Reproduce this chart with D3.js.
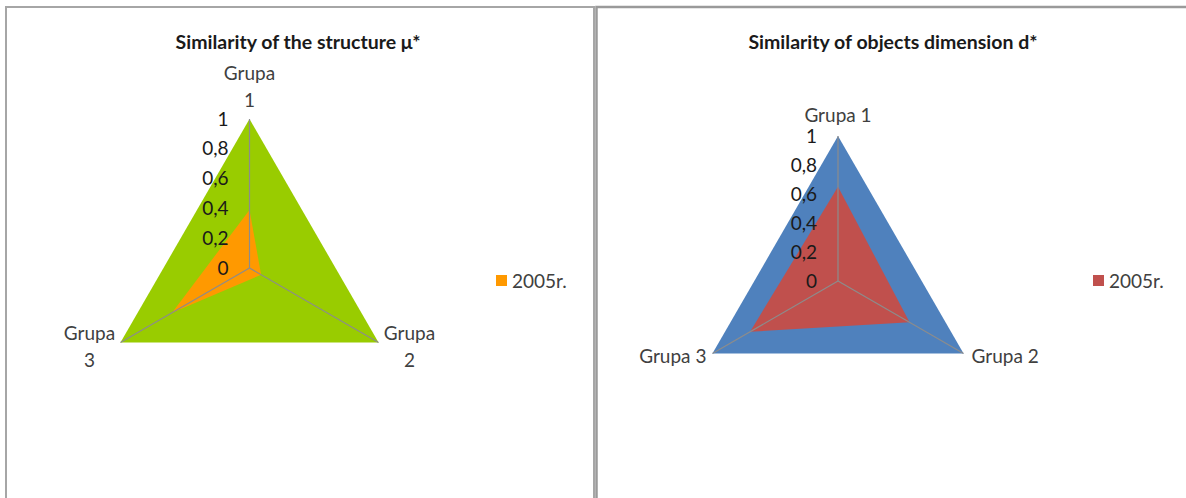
<!DOCTYPE html>
<html>
<head>
<meta charset="utf-8">
<script src="https://cdn.jsdelivr.net/npm/d3@7"></script>
<style>
  html, body { margin: 0; padding: 0; background: #fff; }
  svg { display: block; }
  text { font-family: Lato, "Open Sans", sans-serif; }
</style>
</head>
<body>
<svg id="chart" width="1186" height="498"></svg>
<script>
// ---- data ----
const categories = ["Grupa 1", "Grupa 2", "Grupa 3"];
const tickValues = [0, 0.2, 0.4, 0.6, 0.8, 1];
const tickLabels = ["0", "0,2", "0,4", "0,6", "0,8", "1"];
const legendLabel = "2005r.";

const structureTitle = "Similarity of the structure \u03bc*";
const structureBase = [1, 1, 1];
const structure2005 = [0.39, 0.09, 0.60];

const dimensionTitle = "Similarity of objects dimension d*";
const dimensionBase = [1, 1, 1];
const dimension2005 = [0.65, 0.57, 0.70];

// ---- drawing ----
const svg = d3.select("#chart");

// frames
svg.append("rect").attr("x", 6).attr("y", 7).attr("width", 588).attr("height", 600)
  .attr("fill", "none").attr("stroke", "#a6a6a6").attr("stroke-width", 2);
svg.append("rect").attr("x", 596.5).attr("y", 7).attr("width", 620).attr("height", 600)
  .attr("fill", "none").attr("stroke", "#9a9a9a").attr("stroke-width", 2.5);

function radar(cfg) {
  const g = svg.append("g");
  const r = d3.scaleLinear().domain([0, 1]).range([0, cfg.R]);
  const angle = d3.scalePoint().domain(categories).range([0, 2 * Math.PI * (categories.length - 1) / categories.length]);
  const pt = (cat, v) => [cfg.cx + r(v) * Math.sin(angle(cat)), cfg.cy - r(v) * Math.cos(angle(cat))];

  const line = d3.lineRadial()
    .angle((d, i) => angle(categories[i]))
    .radius(d => r(d))
    .curve(d3.curveLinearClosed);

  const pg = g.append("g").attr("transform", `translate(${cfg.cx},${cfg.cy})`);
  pg.append("path").attr("d", line(cfg.base)).attr("fill", cfg.baseColor);
  pg.append("path").attr("d", line(cfg.series)).attr("fill", cfg.seriesColor);

  // spokes
  categories.forEach(c => {
    const p = pt(c, 1);
    g.append("line").attr("x1", cfg.cx).attr("y1", cfg.cy).attr("x2", p[0]).attr("y2", p[1])
      .attr("stroke", "#8c8c8c").attr("stroke-width", 1.2);
  });

  // tick labels
  g.selectAll("text.tick").data(tickValues).enter().append("text")
    .attr("class", "tick")
    .attr("x", cfg.cx - cfg.tickGap)
    .attr("y", d => cfg.cy - r(d))
    .attr("dy", "0.35em")
    .attr("text-anchor", "end")
    .attr("font-size", 19)
    .attr("fill", "#1a1a1a")
    .text((d, i) => tickLabels[i]);

  // category labels
  categories.forEach((c, i) => {
    const p = pt(c, 1);
    const o = cfg.labelOffsets[i];
    const t = g.append("text")
      .attr("x", p[0] + o[0]).attr("y", p[1] + o[1])
      .attr("text-anchor", o[2])
      .attr("font-size", 19)
      .attr("fill", "#404040");
    if (cfg.wrap) {
      const parts = c.split(" ");
      parts.forEach((s, k) => {
        t.append("tspan").attr("x", p[0] + o[0]).attr("dy", k === 0 ? "0.35em" : cfg.lineGap).text(s);
      });
    } else {
      t.attr("dy", "0.35em").text(c);
    }
  });

  // title
  svg.append("text").attr("x", cfg.titleX).attr("y", 42).attr("dy", "0.35em")
    .attr("text-anchor", "middle").attr("font-size", 19.5).attr("font-weight", "bold")
    .attr("fill", "#1a1a1a").text(cfg.title);

  // legend
  svg.append("rect").attr("x", cfg.legendX).attr("y", 275).attr("width", 11).attr("height", 11)
    .attr("fill", cfg.seriesColor);
  svg.append("text").attr("x", cfg.legendX + 16).attr("y", 281).attr("dy", "0.35em")
    .attr("font-size", 19).attr("fill", "#404040").text(legendLabel);
}

radar({
  cx: 249.5, cy: 268, R: 149,
  base: structureBase, series: structure2005,
  baseColor: "#99cc00", seriesColor: "#ff9900",
  title: structureTitle, titleX: 298,
  tickGap: 21, wrap: true, lineGap: 27,
  labelOffsets: [[0, -46, "middle"], [31, -9, "middle"], [-31, -9, "middle"]],
  legendX: 496
});

radar({
  cx: 838, cy: 281, R: 145,
  base: dimensionBase, series: dimension2005,
  baseColor: "#4f81bd", seriesColor: "#c0504d",
  title: dimensionTitle, titleX: 893,
  tickGap: 21, wrap: false,
  labelOffsets: [[0, -21, "middle"], [8, 3, "start"], [-6, 3, "end"]],
  legendX: 1093
});
</script>
</body>
</html>
